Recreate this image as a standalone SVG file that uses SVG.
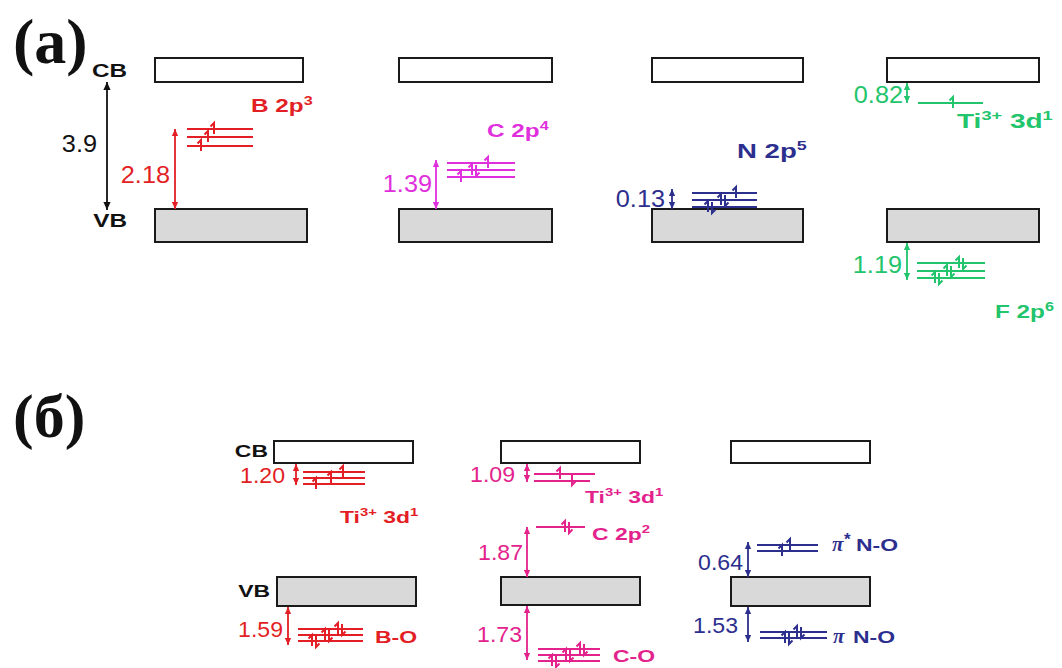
<svg xmlns="http://www.w3.org/2000/svg" width="1062" height="668" viewBox="0 0 1062 668">
  <style>
    .cb{fill:#ffffff;stroke:#1a1a1a;stroke-width:2}
    .vb{fill:#d9d9d9;stroke:#1a1a1a;stroke-width:2}
    .lbl{font-family:"Liberation Sans",Arial,sans-serif;font-weight:bold;font-size:18px}
    .lbl2{font-family:"Liberation Sans",Arial,sans-serif;font-weight:bold;font-size:17px}
    .big{font-size:20px}
    .num{font-family:"Liberation Sans",Arial,sans-serif;font-size:23px}
    .num2{font-family:"Liberation Sans",Arial,sans-serif;font-size:22px}
    .pan{font-family:"Liberation Serif","Times New Roman",serif;font-weight:bold}
    .pi{font-family:"Liberation Serif","Times New Roman",serif;font-style:italic;font-weight:bold;font-size:21px}
    .end{text-anchor:end}
    .k{fill:#111111}
    .red{fill:#e31e24}
    .mag{fill:#e02fdc}
    .pink{fill:#e3228c}
    .navy{fill:#2d2f8e}
    .grn{fill:#22c46c}
    .lv{fill:none;stroke-width:2}
    .ar{fill:none;stroke-width:1.8}
  </style>
  <defs>
    <!-- spin harpoons: up (barb left at top), down (barb right at bottom) -->
    <path id="hu" d="M0,5V-6l-3.5,3.5"/>
    <path id="hd" d="M0,-5V6l3.5,-3.5"/>
    <marker id="ah-k" viewBox="0 0 10 10" refX="10" refY="5" markerWidth="9" markerHeight="8" markerUnits="userSpaceOnUse" orient="auto-start-reverse"><path d="M0,0.5L10,5L0,9.5z" fill="#111111"/></marker>
    <marker id="ah-red" viewBox="0 0 10 10" refX="10" refY="5" markerWidth="8" markerHeight="7" markerUnits="userSpaceOnUse" orient="auto-start-reverse"><path d="M0,0.5L10,5L0,9.5z" fill="#e31e24"/></marker>
    <marker id="ah-mag" viewBox="0 0 10 10" refX="10" refY="5" markerWidth="8" markerHeight="7" markerUnits="userSpaceOnUse" orient="auto-start-reverse"><path d="M0,0.5L10,5L0,9.5z" fill="#e02fdc"/></marker>
    <marker id="ah-pink" viewBox="0 0 10 10" refX="10" refY="5" markerWidth="7" markerHeight="7" markerUnits="userSpaceOnUse" orient="auto-start-reverse"><path d="M0,0.5L10,5L0,9.5z" fill="#e3228c"/></marker>
    <marker id="ah-navy" viewBox="0 0 10 10" refX="10" refY="5" markerWidth="7" markerHeight="7" markerUnits="userSpaceOnUse" orient="auto-start-reverse"><path d="M0,0.5L10,5L0,9.5z" fill="#2d2f8e"/></marker>
    <marker id="ah-grn" viewBox="0 0 10 10" refX="10" refY="5" markerWidth="7" markerHeight="7" markerUnits="userSpaceOnUse" orient="auto-start-reverse"><path d="M0,0.5L10,5L0,9.5z" fill="#22c46c"/></marker>
  </defs>

  <rect width="1062" height="668" fill="#ffffff"/>

  <!-- panel titles -->
  <text class="pan k" x="13" y="63" font-size="64">(a)</text>
  <text class="pan k" x="13" y="437" font-size="62">(б)</text>

  <!-- ===== panel (a) ===== -->
  <g id="a-pure">
    <text class="lbl k end" transform="translate(127,77) scale(1.35,1)">CB</text>
    <text class="lbl k end" transform="translate(127,227) scale(1.35,1)">VB</text>
    <text class="num k end" transform="translate(97,152) scale(1.1,1)">3.9</text>
  </g>

  <g id="a-boron">
    <rect class="cb" x="155" y="58" width="148" height="24"/>
    <rect class="vb" x="155" y="209" width="152" height="33"/>
    <g class="lv" stroke="#e31e24">
      <line x1="187" y1="129" x2="253" y2="129"/>
      <line x1="187" y1="137" x2="253" y2="137"/>
      <line x1="187" y1="146" x2="253" y2="146"/>
      <use href="#hu" x="201" y="146"/><use href="#hu" x="208" y="137"/><use href="#hu" x="214" y="129"/>
    </g>
    <text class="lbl red" transform="translate(251,112) scale(1.35,1)">B 2p<tspan font-size="12" dy="-7">3</tspan></text>
    <text class="num red end" transform="translate(170,183) scale(1.1,1)">2.18</text>
  </g>

  <g id="a-carbon">
    <rect class="cb" x="399" y="58" width="153" height="24"/>
    <rect class="vb" x="399" y="209" width="153" height="33"/>
    <g class="lv" stroke="#e02fdc">
      <line x1="447" y1="163" x2="515" y2="163"/>
      <line x1="447" y1="170" x2="515" y2="170"/>
      <line x1="447" y1="177" x2="515" y2="177"/>
      <use href="#hu" x="461" y="177"/><use href="#hu" x="472" y="170"/><use href="#hd" x="476" y="170"/><use href="#hu" x="488" y="163"/>
    </g>
    <text class="lbl mag" transform="translate(487,137) scale(1.35,1)">C 2p<tspan font-size="12" dy="-7">4</tspan></text>
    <text class="num mag end" transform="translate(432,192) scale(1.1,1)">1.39</text>
  </g>

  <g id="a-nitrogen">
    <rect class="cb" x="652" y="58" width="151" height="24"/>
    <rect class="vb" x="652" y="209" width="151" height="33"/>
    <g class="lv" stroke="#2d2f8e">
      <line x1="692" y1="193" x2="757" y2="193"/>
      <line x1="692" y1="200" x2="757" y2="200"/>
      <line x1="692" y1="207" x2="757" y2="207"/>
      <use href="#hu" x="708" y="207"/><use href="#hd" x="712" y="207"/><use href="#hu" x="721" y="200"/><use href="#hd" x="725" y="200"/><use href="#hu" x="736" y="193"/>
    </g>
    <text class="lbl big navy" transform="translate(737,158) scale(1.38,1)">N 2p<tspan font-size="13" dy="-8">5</tspan></text>
    <text class="num navy end" transform="translate(665,207) scale(1.1,1)">0.13</text>
  </g>

  <g id="a-fluorine">
    <rect class="cb" x="887" y="58" width="152" height="24"/>
    <rect class="vb" x="887" y="209" width="152" height="33"/>
    <g class="lv" stroke="#22c46c">
      <line x1="918" y1="103" x2="983" y2="103"/>
      <use href="#hu" x="953" y="103"/>
      <line x1="917" y1="263" x2="985" y2="263"/>
      <line x1="917" y1="271" x2="985" y2="271"/>
      <line x1="917" y1="278" x2="985" y2="278"/>
      <use href="#hu" x="935" y="278"/><use href="#hd" x="939" y="278"/><use href="#hu" x="947" y="271"/><use href="#hd" x="951" y="271"/><use href="#hu" x="959" y="263"/><use href="#hd" x="963" y="263"/>
    </g>
    <text class="lbl big grn" transform="translate(957,128) scale(1.4,1)">Ti<tspan font-size="13" dy="-8">3+</tspan><tspan dy="8"> 3d</tspan><tspan font-size="13" dy="-8">1</tspan></text>
    <text class="lbl grn" transform="translate(995,318) scale(1.35,1)">F 2p<tspan font-size="12" dy="-7">6</tspan></text>
    <text class="num grn end" transform="translate(903,103) scale(1.1,1)">0.82</text>
    <text class="num grn end" transform="translate(902,273) scale(1.1,1)">1.19</text>
  </g>

  <!-- ===== panel (б) ===== -->
  <g id="b-boron">
    <text class="lbl2 k end" transform="translate(268,457) scale(1.35,1)">CB</text>
    <text class="lbl2 k end" transform="translate(270,597) scale(1.35,1)">VB</text>
    <rect class="cb" x="274" y="441" width="139" height="22"/>
    <rect class="vb" x="277" y="577" width="139" height="29"/>
    <g class="lv" stroke="#e31e24">
      <line x1="303" y1="472" x2="365" y2="472"/>
      <line x1="303" y1="478" x2="365" y2="478"/>
      <line x1="303" y1="484" x2="365" y2="484"/>
      <use href="#hu" x="316" y="484"/><use href="#hu" x="331" y="478"/><use href="#hu" x="343" y="472"/>
      <line x1="298" y1="629" x2="363" y2="629"/>
      <line x1="298" y1="635" x2="363" y2="635"/>
      <line x1="298" y1="641" x2="363" y2="641"/>
      <use href="#hu" x="312" y="641"/><use href="#hd" x="316" y="641"/><use href="#hu" x="325" y="635"/><use href="#hd" x="329" y="635"/><use href="#hu" x="338" y="629"/><use href="#hd" x="342" y="629"/>
    </g>
    <text class="lbl2 red" transform="translate(340,523) scale(1.35,1)">Ti<tspan font-size="11" dy="-7">3+</tspan><tspan dy="7"> 3d</tspan><tspan font-size="11" dy="-7">1</tspan></text>
    <text class="lbl2 red" transform="translate(375,643) scale(1.35,1)">B-O</text>
    <text class="num2 red end" transform="translate(285,483) scale(1.05,1)">1.20</text>
    <text class="num2 red end" transform="translate(283,637) scale(1.05,1)">1.59</text>
  </g>

  <g id="b-carbon">
    <rect class="cb" x="501" y="441" width="139" height="22"/>
    <rect class="vb" x="501" y="577" width="139" height="28"/>
    <g class="lv" stroke="#e3228c">
      <line x1="534" y1="474" x2="595" y2="474"/>
      <line x1="534" y1="481" x2="590" y2="481"/>
      <use href="#hu" x="560" y="474"/><use href="#hd" x="572" y="479"/>
      <line x1="536" y1="527" x2="585" y2="527"/>
      <use href="#hu" x="565" y="527"/><use href="#hd" x="569" y="527"/>
      <line x1="538" y1="649" x2="600" y2="649"/>
      <line x1="538" y1="655" x2="600" y2="655"/>
      <line x1="538" y1="661" x2="600" y2="661"/>
      <use href="#hu" x="552" y="661"/><use href="#hd" x="556" y="661"/><use href="#hu" x="566" y="655"/><use href="#hd" x="570" y="655"/><use href="#hu" x="580" y="649"/><use href="#hd" x="584" y="649"/>
    </g>
    <text class="lbl2 pink" transform="translate(585,503) scale(1.35,1)">Ti<tspan font-size="11" dy="-7">3+</tspan><tspan dy="7"> 3d</tspan><tspan font-size="11" dy="-7">1</tspan></text>
    <text class="lbl2 pink" transform="translate(592,540) scale(1.35,1)">C 2p<tspan font-size="11" dy="-7">2</tspan></text>
    <text class="lbl2 pink" transform="translate(613,662) scale(1.35,1)">C-O</text>
    <text class="num2 pink end" transform="translate(515,482) scale(1.05,1)">1.09</text>
    <text class="num2 pink end" transform="translate(523,560) scale(1.05,1)">1.87</text>
    <text class="num2 pink end" transform="translate(522,642) scale(1.05,1)">1.73</text>
  </g>

  <g id="b-nitrogen">
    <rect class="cb" x="731" y="441" width="139" height="22"/>
    <rect class="vb" x="731" y="577" width="139" height="29"/>
    <g class="lv" stroke="#2d2f8e">
      <line x1="757" y1="545" x2="818" y2="545"/>
      <line x1="757" y1="551" x2="818" y2="551"/>
      <use href="#hu" x="782" y="551"/><use href="#hu" x="790" y="545"/>
      <line x1="760" y1="632" x2="827" y2="632"/>
      <line x1="760" y1="638" x2="827" y2="638"/>
      <use href="#hu" x="785" y="638"/><use href="#hd" x="789" y="638"/><use href="#hu" x="797" y="632"/><use href="#hd" x="801" y="632"/>
    </g>
    <text class="pi navy" x="832" y="551">π</text>
    <text class="lbl2 navy" x="844" y="545" font-size="12">*</text>
    <text class="lbl2 navy" transform="translate(856,551) scale(1.35,1)">N-O</text>
    <text class="pi navy" x="833" y="643">π</text>
    <text class="lbl2 navy" transform="translate(853,643) scale(1.35,1)">N-O</text>
    <text class="num2 navy end" transform="translate(743,570) scale(1.05,1)">0.64</text>
    <text class="num2 navy end" transform="translate(738,633) scale(1.05,1)">1.53</text>
  </g>

  <!-- gap arrows -->
  <g id="connectors" class="ar">
    <line x1="107" y1="82" x2="107" y2="210" stroke="#111111" marker-start="url(#ah-k)" marker-end="url(#ah-k)"/>
    <line x1="175" y1="129" x2="175" y2="209" stroke="#e31e24" marker-start="url(#ah-red)" marker-end="url(#ah-red)"/>
    <line x1="436" y1="160" x2="436" y2="209" stroke="#e02fdc" marker-start="url(#ah-mag)" marker-end="url(#ah-mag)"/>
    <line x1="672" y1="189" x2="672" y2="209" stroke="#2d2f8e" marker-start="url(#ah-navy)" marker-end="url(#ah-navy)"/>
    <line x1="907" y1="83" x2="907" y2="103" stroke="#22c46c" marker-start="url(#ah-grn)" marker-end="url(#ah-grn)"/>
    <line x1="907" y1="243" x2="907" y2="280" stroke="#22c46c" marker-start="url(#ah-grn)" marker-end="url(#ah-grn)"/>
    <line x1="296" y1="464" x2="296" y2="485" stroke="#e31e24" marker-start="url(#ah-red)" marker-end="url(#ah-red)"/>
    <line x1="288" y1="607" x2="288" y2="645" stroke="#e31e24" marker-start="url(#ah-red)" marker-end="url(#ah-red)"/>
    <line x1="527" y1="464" x2="527" y2="482" stroke="#e3228c" marker-start="url(#ah-pink)" marker-end="url(#ah-pink)"/>
    <line x1="527" y1="527" x2="527" y2="577" stroke="#e3228c" marker-start="url(#ah-pink)" marker-end="url(#ah-pink)"/>
    <line x1="527" y1="606" x2="527" y2="660" stroke="#e3228c" marker-start="url(#ah-pink)" marker-end="url(#ah-pink)"/>
    <line x1="748" y1="542" x2="748" y2="577" stroke="#2d2f8e" marker-start="url(#ah-navy)" marker-end="url(#ah-navy)"/>
    <line x1="748" y1="607" x2="748" y2="642" stroke="#2d2f8e" marker-start="url(#ah-navy)" marker-end="url(#ah-navy)"/>
  </g>
</svg>
